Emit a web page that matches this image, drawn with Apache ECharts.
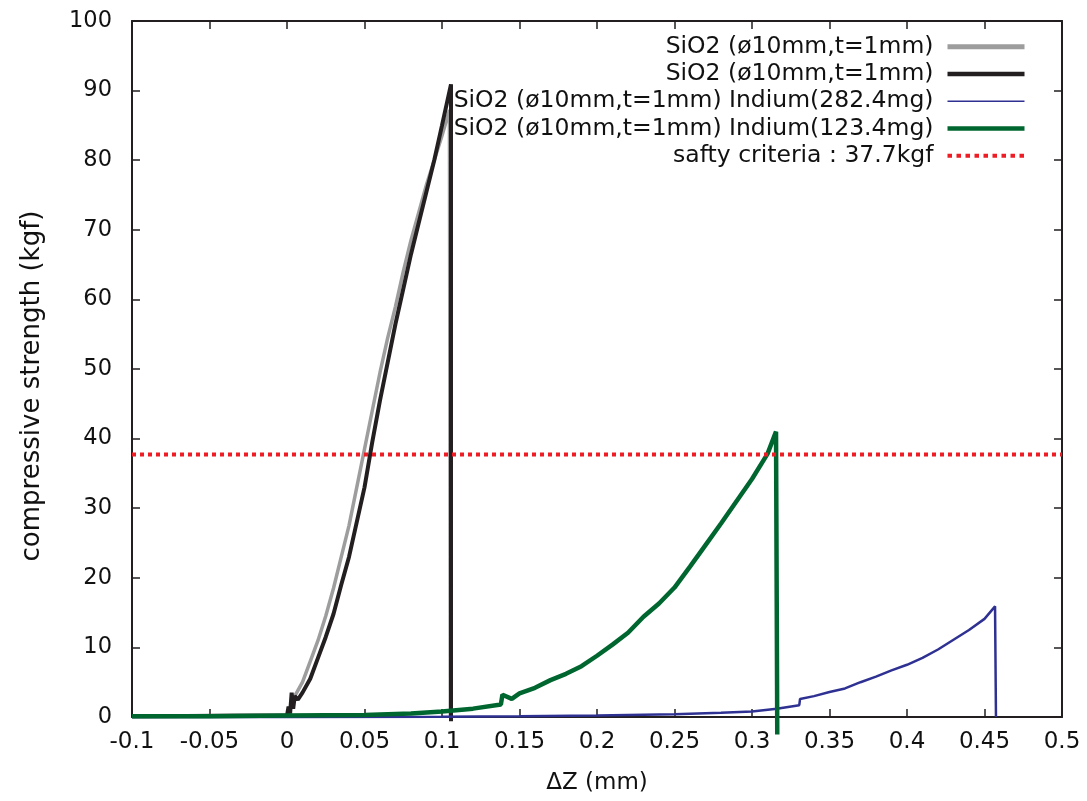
<!DOCTYPE html>
<html>
<head>
<meta charset="utf-8">
<title>compressive strength</title>
<script src="https://cdn.jsdelivr.net/npm/echarts@6/dist/echarts.min.js"></script>
<style>
  html, body { margin: 0; padding: 0; background: #fff; }
  #chart { width: 1087px; height: 801px; }
</style>
</head>
<body>
<div id="chart"></div>
<script>
// tick values
var xTicks = [-0.1, -0.05, 0, 0.05, 0.1, 0.15, 0.2, 0.25, 0.3, 0.35, 0.4, 0.45, 0.5];
var yTicks = [0, 10, 20, 30, 40, 50, 60, 70, 80, 90, 100];

// [dZ (mm), strength (kgf)]
var sio2Grey = [[-0.1,0.1],[0,0.3],[0.005,3],[0.01,5],[0.015,8],[0.02,11],[0.025,14.5],[0.03,18.5],
  [0.035,23],[0.04,27.5],[0.045,33],[0.05,38.5],[0.055,44],[0.06,49.5],[0.065,54.5],[0.07,59],
  [0.075,64],[0.08,68.5],[0.085,72.5],[0.09,76.5],[0.095,80],[0.1,83.5],[0.1048,87.2],[0.1054,0]];

var sio2Black = [[-0.1,0.1],[0,0.2],[0.001,1.5],[0.002,0.5],[0.003,3.5],[0.004,1.2],[0.005,3],
  [0.007,2.5],[0.01,3.5],[0.015,5.5],[0.02,8.5],[0.025,11.5],[0.03,14.8],[0.035,19],[0.04,23],
  [0.045,28],[0.05,33],[0.055,39.5],[0.06,45.5],[0.065,51],[0.07,56.5],[0.075,61.5],[0.08,66.5],
  [0.085,71],[0.09,75.5],[0.095,80],[0.1,85],[0.1058,90.9],[0.1058,-0.6]];

var indium282 = [[-0.1,0],[0,0],[0.1,0.05],[0.15,0.1],[0.2,0.2],[0.25,0.4],[0.28,0.6],[0.3,0.8],
  [0.316,1.2],[0.3305,1.7],[0.331,2.6],[0.34,3.0],[0.35,3.6],[0.36,4.1],[0.37,5.0],[0.38,5.8],
  [0.39,6.7],[0.4,7.5],[0.41,8.5],[0.42,9.7],[0.43,11.1],[0.44,12.5],[0.45,14.1],[0.4568,15.9],[0.4574,0]];

var indium123 = [[-0.1,0.1],[-0.05,0.1],[0,0.2],[0.05,0.3],[0.08,0.5],[0.1,0.8],[0.12,1.2],[0.138,1.8],
  [0.139,3.2],[0.145,2.6],[0.15,3.4],[0.16,4.2],[0.17,5.3],[0.18,6.2],[0.19,7.3],[0.2,8.8],[0.21,10.4],
  [0.22,12.1],[0.23,14.4],[0.24,16.3],[0.25,18.6],[0.26,21.6],[0.27,24.7],[0.28,27.8],[0.29,31],
  [0.3,34.2],[0.31,37.8],[0.3155,41],[0.3163,-2.5]];

var safety = 37.7;

var names = ['SiO2 (ø10mm,t=1mm) #1', 'SiO2 (ø10mm,t=1mm) #2',
  'SiO2 (ø10mm,t=1mm) Indium(282.4mg)', 'SiO2 (ø10mm,t=1mm) Indium(123.4mg)',
  'safty criteria : 37.7kgf'];

var font = '"DejaVu Sans", "Liberation Sans", Arial, sans-serif';

var myChart = echarts.init(document.getElementById('chart'));

function lineSeries(name, data, color, width, extra) {
  var s = {
    name: name,
    type: 'line',
    data: data,
    symbol: 'none',
    clip: false,
    silent: true,
    lineStyle: { color: color, width: width },
    itemStyle: { color: color }
  };
  for (var k in extra) s[k] = extra[k];
  return s;
}

var xBase = {
  type: 'value',
  min: xTicks[0],
  max: xTicks[xTicks.length - 1],
  interval: 0.05,
  axisLine: { show: true, onZero: false, lineStyle: { color: '#231f20', width: 2 } },
  axisTick: { show: true, inside: true, length: 8, lineStyle: { color: '#231f20', width: 1.5 } },
  splitLine: { show: false }
};
var yBase = {
  type: 'value',
  min: yTicks[0],
  max: yTicks[yTicks.length - 1],
  interval: 10,
  axisLine: { show: true, onZero: false, lineStyle: { color: '#231f20', width: 2 } },
  axisTick: { show: true, inside: true, length: 8, lineStyle: { color: '#231f20', width: 1.5 } },
  splitLine: { show: false }
};

myChart.setOption({
  animation: false,
  backgroundColor: '#fff',
  textStyle: { fontFamily: font },
  grid: { left: 132, right: 25, top: 21, bottom: 84, containLabel: false },
  legend: {
    right: 60,
    top: 33,
    orient: 'vertical',
    align: 'right',
    padding: 0,
    itemGap: 0,
    itemWidth: 77,
    itemHeight: 14,
    selectedMode: false,
    itemStyle: { opacity: 0 },
    formatter: function (n) { return n.replace(/ #\d$/, ''); },
    textStyle: { fontSize: 23.5, lineHeight: 27.3, color: '#111', fontFamily: font, padding: [0, 9, 0, 0] },
    data: [
      { name: names[0], lineStyle: { width: 5 } },
      { name: names[1], lineStyle: { width: 4.5 } },
      { name: names[2], lineStyle: { width: 1.5 } },
      { name: names[3], lineStyle: { width: 4.5 } },
      { name: names[4], lineStyle: { width: 4, type: [4.5, 4.5] } }
    ]
  },
  xAxis: [
    Object.assign({}, xBase, {
      position: 'bottom',
      name: 'ΔZ (mm)',
      nameLocation: 'middle',
      nameGap: 55,
      nameTextStyle: { fontSize: 23, color: '#111', fontFamily: font },
      axisLabel: { fontSize: 23, color: '#111', margin: 14, fontFamily: font,
        formatter: function (v) { return String(Math.round(v * 100) / 100); } }
    }),
    Object.assign({}, xBase, { position: 'top', axisLabel: { show: false } })
  ],
  yAxis: [
    Object.assign({}, yBase, {
      position: 'left',
      name: 'compressive strength (kgf)',
      nameLocation: 'middle',
      nameGap: 87,
      nameTextStyle: { fontSize: 26, color: '#111', fontFamily: font, padding: [0, 34, 0, 0] },
      axisLabel: { fontSize: 22.5, color: '#111', margin: 20, fontFamily: font }
    }),
    Object.assign({}, yBase, { position: 'right', axisLabel: { show: false } })
  ],
  series: [
    lineSeries(names[0], sio2Grey, '#9d9d9d', 3.5),
    lineSeries(names[1], sio2Black, '#231f20', 4),
    lineSeries(names[2], indium282, '#2e3192', 2.5),
    lineSeries(names[3], indium123, '#00662f', 4.5),
    lineSeries(names[4], [[xTicks[0], safety], [xTicks[xTicks.length - 1], safety]], '#ee1c24', 4,
      { lineStyle: { color: '#ee1c24', width: 4, type: [4, 4] } })
  ]
});
window.onresize = myChart.resize;
</script>
</body>
</html>
